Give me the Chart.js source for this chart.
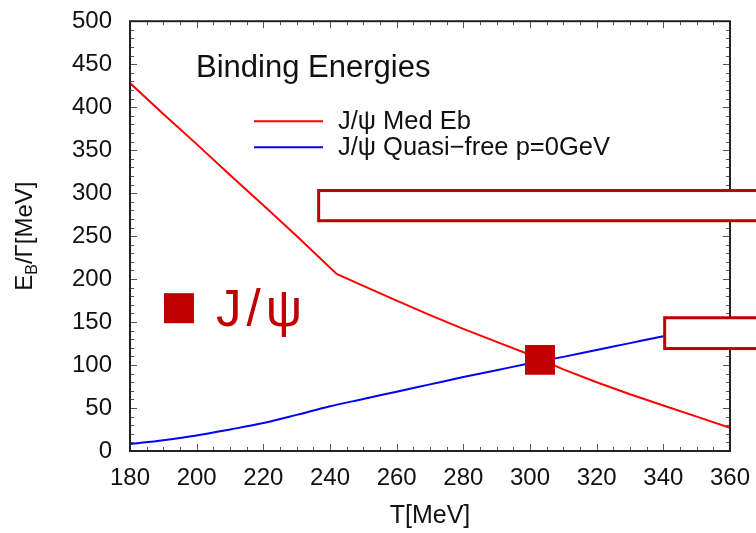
<!DOCTYPE html>
<html><head><meta charset="utf-8">
<script src="https://cdn.jsdelivr.net/npm/chart.js@4/dist/chart.umd.min.js"></script>
<style>html,body{margin:0;padding:0;background:#fff}#wrap{width:756px;height:533px;position:relative}canvas{display:block}</style>
</head><body><div id="wrap"><canvas id="c" width="756" height="533" style="width:756px;height:533px"></canvas></div>
<script>
// ---- data ----
const redT      = [180,190,200,210,220,230,242,250,260,270,280,290,300,310,320,330,340,350,360];
const medEb     = [428,392,357,321,286,250,206,192,175,158,142,127,112,95,80,66,53,40,27];
const blueT     = [180,190,200,210,220,230,240,250,260,270,280,290,300,310,320,330,340,350,360];
const quasiFree = [8,12.5,18,25,32.5,42,52,60.5,69,77.5,86,94,102,109.5,117.5,125.5,133.5,141,149];
const crossT    = [303];
const crossE    = [106];
const seriesLabels = ['J/\u03c8 Med Eb', 'J/\u03c8 Quasi\u2212free p=0GeV'];
const xTickVals = [180,200,220,240,260,280,300,320,340,360];
const yTickVals = [0,50,100,150,200,250,300,350,400,450,500];
const chartTitle = 'Binding Energies';
const markerLabel = 'J/\u03c8';

// annotation boxes (data coordinates)
const boxes = [
  {x0:236.6, x1:420, yTop:303, yBot:267.9},
  {x0:340.4, x1:420, yTop:155, yBot:119.2}
];

const DR = '#C00000';
const FONT = '"Liberation Sans", Arial, sans-serif';

const overlay = {
  id: 'overlay',
  afterDraw(chart) {
    const {ctx, chartArea: a, scales: {x, y}} = chart;
    ctx.save();
    // tick marks (inward, all four sides)
    ctx.strokeStyle = '#555'; ctx.lineWidth = 1;
    ctx.beginPath();
    for (let v = 180; v <= 360; v += 5) {
      const px = Math.round(x.getPixelForValue(v)) + 0.5;
      const L = (v % 20 === 0) ? 7 : 4;
      ctx.moveTo(px, a.bottom); ctx.lineTo(px, a.bottom - L);
      ctx.moveTo(px, a.top); ctx.lineTo(px, a.top + L);
    }
    for (let v = 0; v <= 500; v += 10) {
      const py = Math.round(y.getPixelForValue(v)) + 0.5;
      const L = (v % 50 === 0) ? 7 : 4;
      ctx.moveTo(a.left, py); ctx.lineTo(a.left + L, py);
      ctx.moveTo(a.right, py); ctx.lineTo(a.right - L, py);
    }
    ctx.stroke();
    // frame
    ctx.strokeStyle = '#222'; ctx.lineWidth = 2;
    ctx.strokeRect(a.left, a.top, a.width, a.height);

    // annotation boxes
    ctx.lineWidth = 3; ctx.strokeStyle = DR; ctx.fillStyle = '#fff';
    boxes.forEach(b => {
      const l = x.getPixelForValue(b.x0), r = x.getPixelForValue(b.x1);
      const t = y.getPixelForValue(b.yTop), bt = y.getPixelForValue(b.yBot);
      ctx.fillRect(l, t, r - l, bt - t);
      ctx.strokeRect(l, t, r - l, bt - t);
    });

    // title
    ctx.fillStyle = '#111';
    ctx.font = '31px ' + FONT;
    ctx.textAlign = 'left'; ctx.textBaseline = 'alphabetic';
    ctx.fillText(chartTitle, a.left + 66, a.top + 56);

    // legend
    const colors = chart.data.datasets.map(d => d.borderColor);
    ctx.font = '25.5px ' + FONT;
    ctx.textBaseline = 'middle';
    [0, 1].forEach(i => {
      const ly = a.top + 100 + i * 26;
      ctx.strokeStyle = colors[i]; ctx.lineWidth = 2;
      ctx.beginPath(); ctx.moveTo(a.left + 124, ly); ctx.lineTo(a.left + 193, ly); ctx.stroke();
      ctx.fillStyle = '#111';
      ctx.fillText(seriesLabels[i], a.left + 208, ly + 1);
    });

    // marker legend
    ctx.fillStyle = DR;
    ctx.fillRect(a.left + 34, a.top + 272, 30, 30);
    ctx.font = '51px ' + FONT;
    ctx.textBaseline = 'alphabetic';
    try { ctx.letterSpacing = '5px'; } catch (e) {}
    ctx.fillText(markerLabel, a.left + 86, a.top + 305);
    try { ctx.letterSpacing = '0px'; } catch (e) {}

    // y axis title with subscript
    ctx.save();
    ctx.translate(32, (a.top + a.bottom) / 2);
    ctx.rotate(-Math.PI / 2);
    ctx.fillStyle = '#111';
    const f1 = '24px ' + FONT, f2 = '16px ' + FONT;
    ctx.font = f1; const wE = ctx.measureText('E').width; const wR = ctx.measureText('/\u0393[MeV]').width;
    ctx.font = f2; const wB = ctx.measureText('B').width;
    let cx = -(wE + wB + wR) / 2;
    ctx.textAlign = 'left'; ctx.textBaseline = 'alphabetic';
    ctx.font = f1; ctx.fillText('E', cx, 0); cx += wE;
    ctx.font = f2; ctx.fillText('B', cx, 5); cx += wB;
    ctx.font = f1; ctx.fillText('/\u0393[MeV]', cx, 0);
    ctx.restore();

    ctx.restore();
  }
};

new Chart(document.getElementById('c'), {
  type: 'line',
  data: {
    datasets: [
      { label: seriesLabels[0], data: redT.map((t, i) => ({x: t, y: medEb[i]})),
        borderColor: '#FF0000', borderWidth: 2, pointRadius: 0, tension: 0, order: 2 },
      { label: seriesLabels[1], data: blueT.map((t, i) => ({x: t, y: quasiFree[i]})),
        borderColor: '#0000FF', borderWidth: 2, pointRadius: 0, cubicInterpolationMode: 'monotone', order: 2 },
      { label: markerLabel, data: crossT.map((t, i) => ({x: t, y: crossE[i]})),
        showLine: false, pointStyle: 'rect', pointRadius: 21.2, pointHoverRadius: 21.2,
        backgroundColor: DR, borderColor: DR, pointBorderWidth: 0, order: 1 }
    ]
  },
  options: {
    responsive: false,
    animation: false,
    devicePixelRatio: 1,
    layout: { padding: { top: 17, right: 26, left: 0, bottom: 0 } },
    plugins: { legend: { display: false }, tooltip: { enabled: false }, title: { display: false } },
    scales: {
      x: {
        type: 'linear', min: 180, max: 360,
        afterBuildTicks: s => { s.ticks = xTickVals.map(v => ({value: v})); },
        afterFit: s => { s.height = 82; s.paddingLeft = 0; s.paddingRight = 0; },
        grid: { display: false, drawTicks: false },
        border: { display: false },
        ticks: { padding: 13, color: '#111', font: { family: FONT, size: 24 } },
        title: { display: true, text: 'T[MeV]', color: '#111', font: { family: FONT, size: 25 }, padding: { top: 0, bottom: 2 } }
      },
      y: {
        type: 'linear', min: 0, max: 500,
        afterBuildTicks: s => { s.ticks = yTickVals.map(v => ({value: v})); },
        afterFit: s => { s.width = 130; s.paddingTop = 0; s.paddingBottom = 0; },
        grid: { display: false, drawTicks: false },
        border: { display: false },
        ticks: { padding: 18, color: '#111', font: { family: FONT, size: 24 } }
      }
    }
  },
  plugins: [overlay]
});
</script>
</body></html>
